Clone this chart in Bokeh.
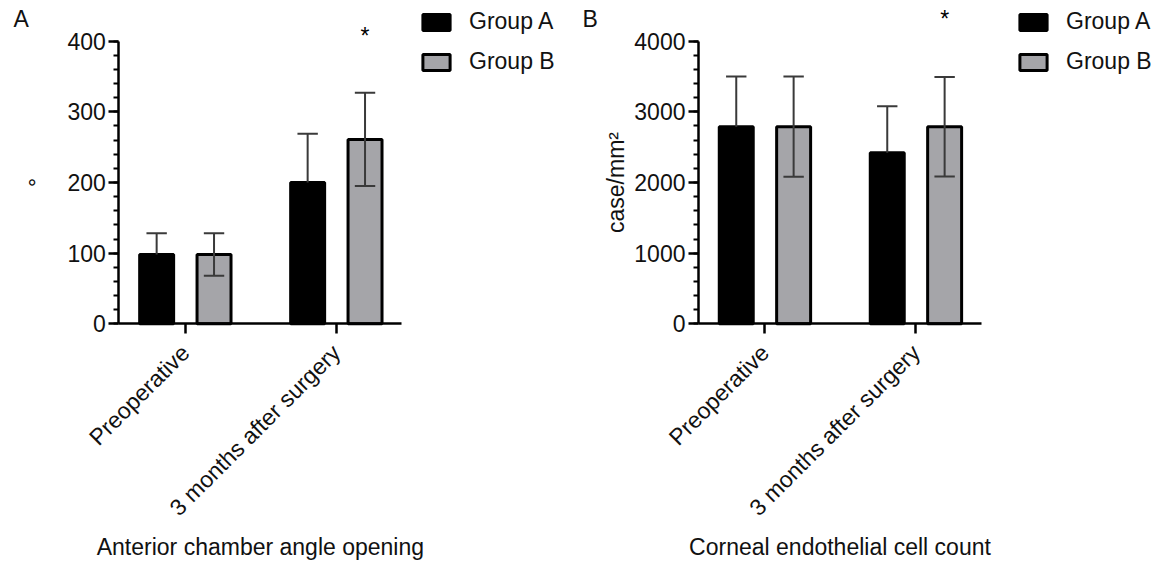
import math
import numpy as np
from bokeh.plotting import figure
from bokeh.models import (Range1d, FixedTicker, SingleIntervalTicker, Legend, LegendItem, Label)
from bokeh.layouts import row
from bokeh.core.properties import value
from bokeh.embed import file_html
from bokeh.resources import INLINE

# ---------------- data ----------------
categories = ["Preoperative", "3 months after surgery"]
groups = ["Group A", "Group B"]

# Panel A: anterior chamber angle opening (degrees)
angle_a = [98, 200]
angle_a_err = [30, 69]
angle_b = [98, 261]
angle_b_err = [30, 66]
angle_ticks = [0, 100, 200, 300, 400]

# Panel B: corneal endothelial cell count (case/mm^2)
cell_a = [2790, 2420]
cell_a_err = [710, 660]
cell_b = [2790, 2790]
cell_b_err = [710, 705]
cell_ticks = [0, 1000, 2000, 3000, 4000]

sig_category = [1]   # category with a significant difference (marked over Group B)

# ---------------- style / layout ----------------
FONT = "Liberation Sans"
FS = "23px"
GREY = "#a5a5a9"
ERR = "#3a3a3a"
TXT = "#111111"

H = 563
OFFSET = 0.19          # dodge of each group from the category centre
BAR_W = 0.225
CAP = 0.135
PX_X = 151.0           # pixels per category unit
X_START = -0.44        # left end of the x axis (category units)
X_END = 1.434          # right end of the x axis
AXIS_Y_PX = 323.3      # pixel row of the x axis
AXIS_H_PX = 282.6      # pixel height of the y axis (0 .. top tick)
TEXT_SHIFT = 10        # renderer places alphabetic baselines this much lower


def make_panel(letter, a_vals, a_err, b_vals, b_err, ticks, ylabel, xlabel,
               fig_w, axis_x_px, letter_px, ylabel_px, legend_x_px, star_center_px):
    idx = np.arange(len(categories))
    xa = idx - OFFSET
    xb = idx + OFFSET
    a_vals = np.array(a_vals, float)
    a_err = np.array(a_err, float)
    b_vals = np.array(b_vals, float)
    b_err = np.array(b_err, float)

    top = ticks[-1]
    py = AXIS_H_PX / top                       # pixels per y unit
    x0 = X_START - axis_x_px / PX_X
    x1 = x0 + fig_w / PX_X
    y1 = AXIS_Y_PX / py
    y0 = -(H - AXIS_Y_PX) / py

    def dx(px):   # canvas pixel column -> data x
        return x0 + px / PX_X

    def dy(pyx):  # canvas pixel row -> data y
        return (AXIS_Y_PX - pyx) / py

    p = figure(width=fig_w, height=H, min_border=0,
               x_range=Range1d(x0, x1), y_range=Range1d(y0, y1),
               output_backend="svg", toolbar_location=None, title=None)
    p.grid.visible = False
    p.outline_line_color = None
    p.background_fill_color = "white"
    p.border_fill_color = "white"

    ra = p.vbar(x=xa, top=a_vals, width=BAR_W, fill_color="black",
                line_color="black", line_width=3)
    rb = p.vbar(x=xb, top=b_vals, width=BAR_W, fill_color=GREY,
                line_color="black", line_width=3)

    # error bars: Group A upward only, Group B both ways
    p.segment(x0=xa, y0=a_vals, x1=xa, y1=a_vals + a_err, line_color=ERR, line_width=2)
    p.segment(x0=xa - CAP / 2, y0=a_vals + a_err, x1=xa + CAP / 2, y1=a_vals + a_err,
              line_color=ERR, line_width=2)
    p.segment(x0=xb, y0=b_vals - b_err, x1=xb, y1=b_vals + b_err, line_color=ERR, line_width=2)
    p.segment(x0=xb - CAP / 2, y0=b_vals + b_err, x1=xb + CAP / 2, y1=b_vals + b_err,
              line_color=ERR, line_width=2)
    p.segment(x0=xb - CAP / 2, y0=b_vals - b_err, x1=xb + CAP / 2, y1=b_vals - b_err,
              line_color=ERR, line_width=2)

    # significance star above Group B
    star_baseline = star_center_px + 0.58 * 23 - TEXT_SHIFT
    p.text(x=[i + OFFSET for i in sig_category], y=[dy(star_baseline)] * len(sig_category),
           text=["*"] * len(sig_category),
           text_font=value(FONT), text_font_size=FS, text_align="center",
           text_baseline="alphabetic", text_color="black")

    # y axis
    ya = p.yaxis[0]
    ya.ticker = SingleIntervalTicker(interval=ticks[1] - ticks[0], num_minor_ticks=5)
    ya.bounds = (ticks[0], ticks[-1])
    ya.fixed_location = X_START
    # x axis
    xax = p.xaxis[0]
    xax.ticker = FixedTicker(ticks=list(idx), minor_ticks=[])
    xax.major_label_overrides = {int(i): c for i, c in enumerate(categories)}
    xax.bounds = (X_START, X_END)
    xax.fixed_location = 0
    xax.major_label_orientation = math.pi / 4

    for ax in (ya, xax):
        ax.axis_line_width = 2.5
        ax.axis_line_color = "black"
        ax.major_tick_line_width = 2.5
        ax.major_tick_line_color = "black"
        ax.minor_tick_line_width = 2
        ax.minor_tick_line_color = "black"
        ax.major_tick_in = 0
        ax.minor_tick_in = 0
        ax.major_tick_out = 10
        ax.minor_tick_out = 5
        ax.major_label_text_font = FONT
        ax.major_label_text_font_size = FS
        ax.major_label_text_color = TXT
    ya.major_label_standoff = 3
    xax.major_label_standoff = 15

    # axis titles
    p.add_layout(Label(x=(X_START + X_END) / 2, y=dy(556.5 - TEXT_SHIFT), text=xlabel,
                       text_font=FONT, text_font_size=FS, text_align="center",
                       text_baseline="alphabetic", text_color=TXT))
    p.add_layout(Label(x=dx(ylabel_px[0] - TEXT_SHIFT), y=(ticks[0] + ticks[-1]) / 2,
                       text=ylabel, angle=math.pi / 2, text_font=FONT, text_font_size=FS,
                       text_align="center", text_baseline="alphabetic", text_color=TXT))

    # panel letter
    p.add_layout(Label(x=dx(letter_px[0]), y=dy(letter_px[1] - TEXT_SHIFT), text=letter,
                       text_font=FONT, text_font_size=FS, text_align="left",
                       text_baseline="alphabetic", text_color=TXT))

    legend = Legend(items=[LegendItem(label=groups[0], renderers=[ra]),
                           LegendItem(label=groups[1], renderers=[rb])],
                    location=(legend_x_px, H - 75),
                    glyph_width=34, glyph_height=20, label_height=20,
                    label_standoff=16, spacing=13, padding=0, margin=0,
                    border_line_color=None, background_fill_alpha=0,
                    label_text_font=FONT, label_text_font_size=FS,
                    label_text_color=TXT)
    p.add_layout(legend, "center")
    return p


pa = make_panel("A", angle_a, angle_a_err, angle_b, angle_b_err, angle_ticks,
                "°", "Anterior chamber angle opening",
                fig_w=578, axis_x_px=118.4, letter_px=(13, 28.3), ylabel_px=(46.3, 181),
                legend_x_px=419, star_center_px=31.7)
pb = make_panel("B", cell_a, cell_a_err, cell_b, cell_b_err, cell_ticks,
                "case/mm²", "Corneal endothelial cell count",
                fig_w=580, axis_x_px=120, letter_px=(4, 28.3), ylabel_px=(47, 180),
                legend_x_px=438, star_center_px=15)

layout = row(pa, pb)
open("out.html", "w").write(file_html(layout, INLINE))
